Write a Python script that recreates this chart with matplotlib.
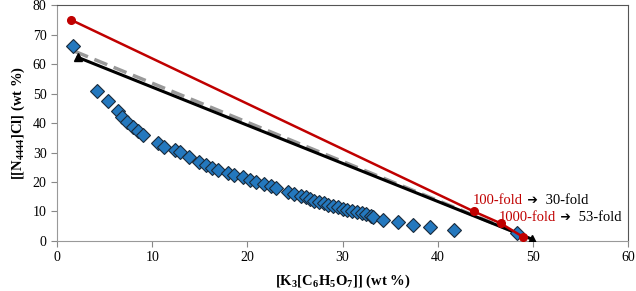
import matplotlib.pyplot as plt

plt.rcParams['font.family'] = ['Liberation Serif', 'DejaVu Sans']
plt.rcParams['mathtext.fontset'] = 'custom'
plt.rcParams['mathtext.rm'] = 'Liberation Serif'
plt.rcParams['mathtext.bf'] = 'Liberation Serif:bold'

# binodal data
bin_x = [1.7, 4.2, 5.4, 6.4, 6.8, 7.4, 8.0, 8.5, 9.0, 10.6, 11.2, 12.4, 12.9,
         13.9, 14.9, 15.7, 16.3, 16.9, 18.0, 18.6, 19.5, 20.3, 20.9, 21.8,
         22.5, 23.0, 24.3, 24.9, 25.6, 26.2, 26.6, 27.0, 27.5, 28.0, 28.5,
         29.0, 29.5, 30.0, 30.5, 31.0, 31.5, 32.0, 32.5, 33.0, 33.2, 34.2,
         35.8, 37.4, 39.2, 41.7, 48.3]
bin_y = [66.0, 51.0, 47.5, 44.0, 42.0, 40.5, 38.6, 37.3, 36.0, 33.2, 31.9, 30.8,
         30.2, 28.5, 26.8, 25.8, 24.7, 24.1, 23.1, 22.4, 21.7, 20.7, 20.0,
         19.3, 18.6, 18.0, 16.7, 16.0, 15.3, 14.9, 14.3, 13.7, 13.2, 12.8,
         12.3, 11.8, 11.4, 11.0, 10.6, 10.2, 9.8, 9.4, 9.0, 8.6, 8.2, 7.1,
         6.4, 5.4, 4.7, 3.7, 2.7]

# tie lines
red_x = [1.5, 43.8, 46.6, 49.0]
red_y = [75.0, 10.0, 6.0, 1.3]
black_x = [2.2, 49.9]
black_y = [62.3, 0.6]
grey_x = [1.9, 48.3]
grey_y = [64.3, 2.7]

fig = plt.figure(figsize=(6.36, 2.91), dpi=100)
ax = fig.add_axes([0.0896, 0.172, 0.898, 0.81])

ax.plot(grey_x, grey_y, '--', color='#999999', lw=2.5, dashes=(4, 2), zorder=2)
ax.plot(black_x, black_y, '-', color='black', lw=2.2, zorder=3)
ax.plot(black_x, black_y, '^', color='black', ms=5.5, zorder=3)
ax.plot(bin_x, bin_y, 'D', color='#2478BE', mec='#1A2A3A', mew=0.8, ms=6.8,
        ls='none', zorder=4)
ax.plot(red_x, red_y, '-o', color='#C00000', lw=1.8, ms=5.5, zorder=5)


def fold_label(x, y, before, after):
    t = ax.text(x, y, before, color='#C00000', fontsize=10.5, va='baseline')
    a = ax.annotate(' \u2794', xy=(1, 0), xycoords=t, color='black',
                    fontsize=9, va='bottom', family='DejaVu Sans',
                    fontweight='bold')
    ax.annotate(' ' + after, xy=(1, 0), xycoords=t, xytext=(14, 0),
                textcoords='offset points', color='black', fontsize=10.5,
                va='bottom')


fold_label(43.7, 12.6, '100-fold', '30-fold')
fold_label(46.4, 6.9, '1000-fold', '53-fold')

ax.set_xlim(0, 60)
ax.set_ylim(0, 80)
ax.set_xticks(range(0, 61, 10))
ax.set_yticks(range(0, 81, 10))
ax.tick_params(labelsize=10, direction='out', length=4, color='#888888')
for s in ax.spines.values():
    s.set_color('#555555')
ax.spines['left'].set_color('#999999')
ax.spines['bottom'].set_color('#999999')

ax.set_xlabel(r'[K$_\mathbf{3}$[C$_\mathbf{6}$H$_\mathbf{5}$O$_\mathbf{7}$]] (wt %)',
              fontsize=10.5, fontweight='bold', labelpad=6)
ax.set_ylabel(r'[[N$_\mathbf{4444}$]Cl] (wt %)', fontsize=10.5, fontweight='bold',
              labelpad=4)

fig.savefig('out.png', dpi=100)
